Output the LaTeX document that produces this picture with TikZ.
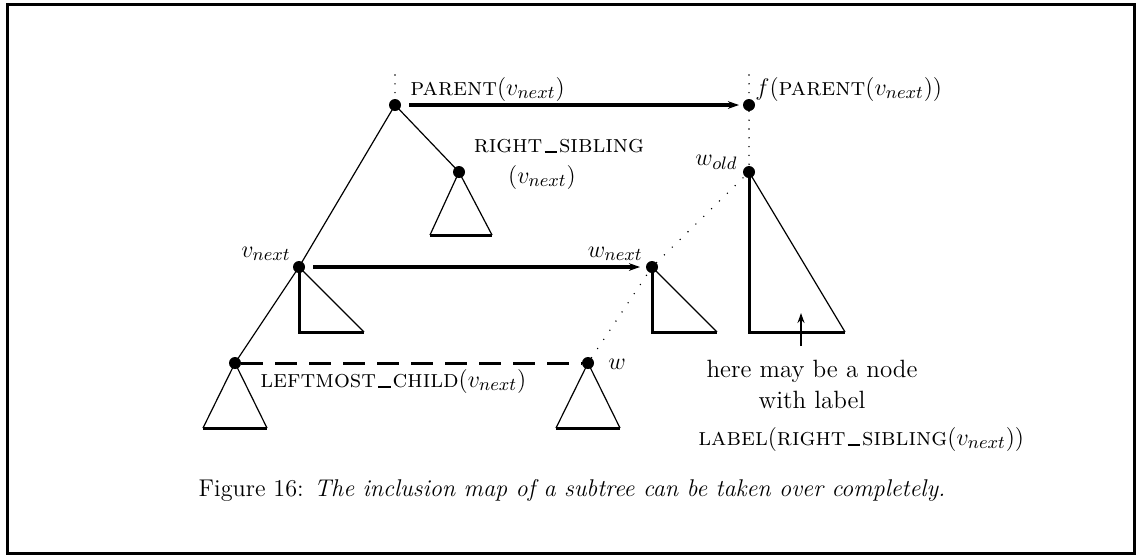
\documentclass[tikz,border=0pt]{standalone}
\usetikzlibrary{arrows.meta}
\newcommand\usc{\kern0.08em\rule[-0.4pt]{0.5em}{0.9pt}\kern0.08em}
\begin{document}
\begin{tikzpicture}[x=0.5pt,y=-0.5pt,
  dot/.style={circle,fill=black,inner sep=0pt,minimum size=6pt},
  thin line/.style={line width=0.6pt},
  thick line/.style={line width=1.5pt},
  maparrow/.style={line width=1.6pt,-{Stealth[length=5.5pt,width=3.8pt]}},
  dotline/.style={line width=0.8pt,line cap=round,dash pattern=on 0pt off 5.5pt},
  vdotline/.style={line width=0.8pt,line cap=round,dash pattern=on 0pt off 4.4pt},
  lbl/.style={inner sep=0pt,font=\fontsize{12.5}{15}\selectfont}]
\useasboundingbox (0,0) rectangle (1139,559);
\draw[line width=1.5pt] (7,4) rectangle (1134,553);

% nodes
\node[dot] (P) at (395,105) {};
\node[dot] (F) at (749,105) {};
\node[dot] (RS) at (459,172) {};
\node[dot] (WO) at (749,172) {};
\node[dot] (VN) at (299,267) {};
\node[dot] (WN) at (652,267) {};
\node[dot] (LC) at (235,363) {};
\node[dot] (W) at (588,363) {};
\coordinate (Ptop) at (395,75);
\coordinate (Ftop) at (749,75);

% tree edges
\draw[thin line] (P.center) -- (RS.center);
\draw[thin line] (P.center) -- (VN.center);
\draw[thin line] (VN.center) -- (LC.center);

% dotted
\draw[vdotline] (Ptop) -- (P);
\draw[vdotline] (Ftop) -- (F);
\draw[vdotline] (F) -- (WO);
\draw[dotline] (W) -- (WN);
\draw[dotline] (WN) -- (WO);

% triangles
\coordinate (RSl) at (430,235); \coordinate (RSr) at (492,235);
\draw[thin line] (RSl) -- (RS.center) -- (RSr);
\draw[thick line] (RSl) -- (RSr);

\coordinate (LCl) at (203,428); \coordinate (LCr) at (267,428);
\draw[thin line] (LCl) -- (LC.center) -- (LCr);
\draw[thick line] (LCl) -- (LCr);

\coordinate (Wl) at (556,428); \coordinate (Wr) at (620,428);
\draw[thin line] (Wl) -- (W.center) -- (Wr);
\draw[thick line] (Wl) -- (Wr);

\coordinate (VNb) at (299,332); \coordinate (VNr) at (364,332);
\draw[thick line] (VN.center) -- (VNb) -- (VNr);
\draw[thin line] (VN.center) -- (VNr);

\coordinate (WNb) at (652,332); \coordinate (WNr) at (717,332);
\draw[thick line] (WN.center) -- (WNb) -- (WNr);
\draw[thin line] (WN.center) -- (WNr);

\coordinate (WOb) at (749,332); \coordinate (WOr) at (845,332);
\draw[thick line] (WO.center) -- (WOb) -- (WOr);
\draw[thin line] (WO.center) -- (WOr);

% maps
\draw[maparrow] ([xshift=7pt]P.center) -- ([xshift=-5pt]F.center);
\draw[maparrow] ([xshift=7pt]VN.center) -- ([xshift=-6pt]WN.center);
\draw[line width=1.5pt,dash pattern=on 11pt off 6pt] (LC) -- (W);

% note arrow
\coordinate (Nb) at (801,346);
\coordinate (Nt) at (801,313);
\draw[line width=1.2pt,-{Stealth[length=5pt,width=3.5pt]}] (Nb) -- (Nt);

% labels
\node[lbl,anchor=base west] (Lp) at (410,95) {\textsc{parent}$(v_{next})$};
\node[lbl,anchor=base west] (Lf) at (755,95) {$f($\textsc{parent}$(v_{next}))$};
\node[lbl,anchor=base] (Lrs1) at (559,152) {\textsc{right\usc sibling}};
\node[lbl,anchor=base] (Lrs2) at (542,183) {$(v_{next})$};
\node[lbl,anchor=base east] (Lwo) at (738,165) {$w_{old}$};
\node[lbl,anchor=base east] (Lvn) at (291,257) {$v_{next}$};
\node[lbl,anchor=base east] (Lwn) at (643,257) {$w_{next}$};
\node[lbl,anchor=base west] (Lw) at (608,369) {$w$};
\node[lbl,anchor=base west] (Llc) at (260,387) {\textsc{leftmost\usc child}$(v_{next})$};
\node[lbl,anchor=base] (N1) at (812,377) {here may be a node};
\node[lbl,anchor=base] (N2) at (812,408) {with label};
\node[lbl,anchor=base west] (N3) at (698,445) {\textsc{label}$($\textsc{right\usc sibling}$(v_{next}))$};
\node[lbl,anchor=base,font=\fontsize{12.1}{15}\selectfont] (Cap) at (572,496) {Figure 16: \textit{The inclusion map of a subtree can be taken over completely.}};
\end{tikzpicture}
\end{document}
